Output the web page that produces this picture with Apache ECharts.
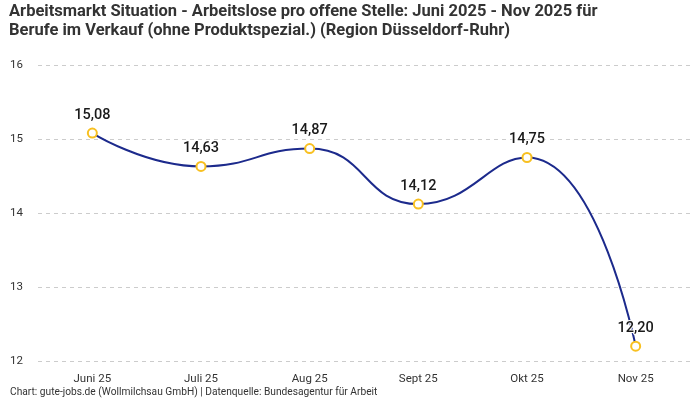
<!DOCTYPE html>
<html>
<head>
<meta charset="utf-8">
<script src="https://cdn.jsdelivr.net/npm/echarts@6/dist/echarts.min.js"></script>
<style>
  html, body { margin: 0; padding: 0; background: #fff; }
  #chart { width: 700px; height: 400px; }
</style>
</head>
<body>
<div id="chart"></div>
<script>
// values
const months = ["Juni 25", "Juli 25", "Aug 25", "Sept 25", "Okt 25", "Nov 25"]
const ratio = [15.08, 14.63, 14.87, 14.12, 14.75, 12.20]
const yTicks = [12, 13, 14, 15, 16]

const font = "Roboto, 'Noto Sans', sans-serif"
const chart = echarts.init(document.getElementById("chart"))

chart.setOption({
  animation: false,
  backgroundColor: "#fff",
  textStyle: {fontFamily: font},
  title: {
    text: "Arbeitsmarkt Situation - Arbeitslose pro offene Stelle: Juni 2025 - Nov 2025 für\nBerufe im Verkauf (ohne Produktspezial.) (Region Düsseldorf-Ruhr)",
    left: 9,
    top: 0,
    padding: [2, 0],
    textStyle: {fontFamily: font, fontSize: 16.5, fontWeight: "bold", color: "#333", lineHeight: 19},
  },
  graphic: [{
    type: "text",
    left: 10,
    top: 387,
    style: {
      text: "Chart: gute-jobs.de (Wollmilchsau GmbH) | Datenquelle: Bundesagentur für Arbeit",
      font: "10.2px " + font,
      fill: "#333",
    },
  }],
  grid: {left: 38, right: 10, top: 65, bottom: 39},
  xAxis: {
    type: "category",
    data: months,
    axisLine: {show: false},
    axisTick: {show: false},
    axisLabel: {color: "#333", fontSize: 11.5, margin: 12},
  },
  yAxis: {
    type: "value",
    min: yTicks[0],
    max: yTicks[yTicks.length - 1],
    interval: 1,
    axisLabel: {color: "#333", fontSize: 11.5, margin: 28, align: "left"},
    splitLine: {lineStyle: {type: [4, 4], color: "#ccc", width: 1}},
  },
  series: [{
    type: "line",
    data: ratio,
    smooth: 0.5,
    symbol: "circle",
    symbolSize: 9,
    lineStyle: {color: "#1c2a8c", width: 2},
    itemStyle: {color: "#fff", borderColor: "#f8c021", borderWidth: 2},
    label: {
      show: true,
      position: "top",
      distance: 5,
      fontSize: 14.5,
      fontWeight: 500,
      color: "#1a1a1a",
      textBorderColor: "#fff",
      textBorderWidth: 2,
      formatter: p => p.value.toFixed(2).replace(".", ","),
    },
    z: 3,
  }],
})
</script>
</body>
</html>
